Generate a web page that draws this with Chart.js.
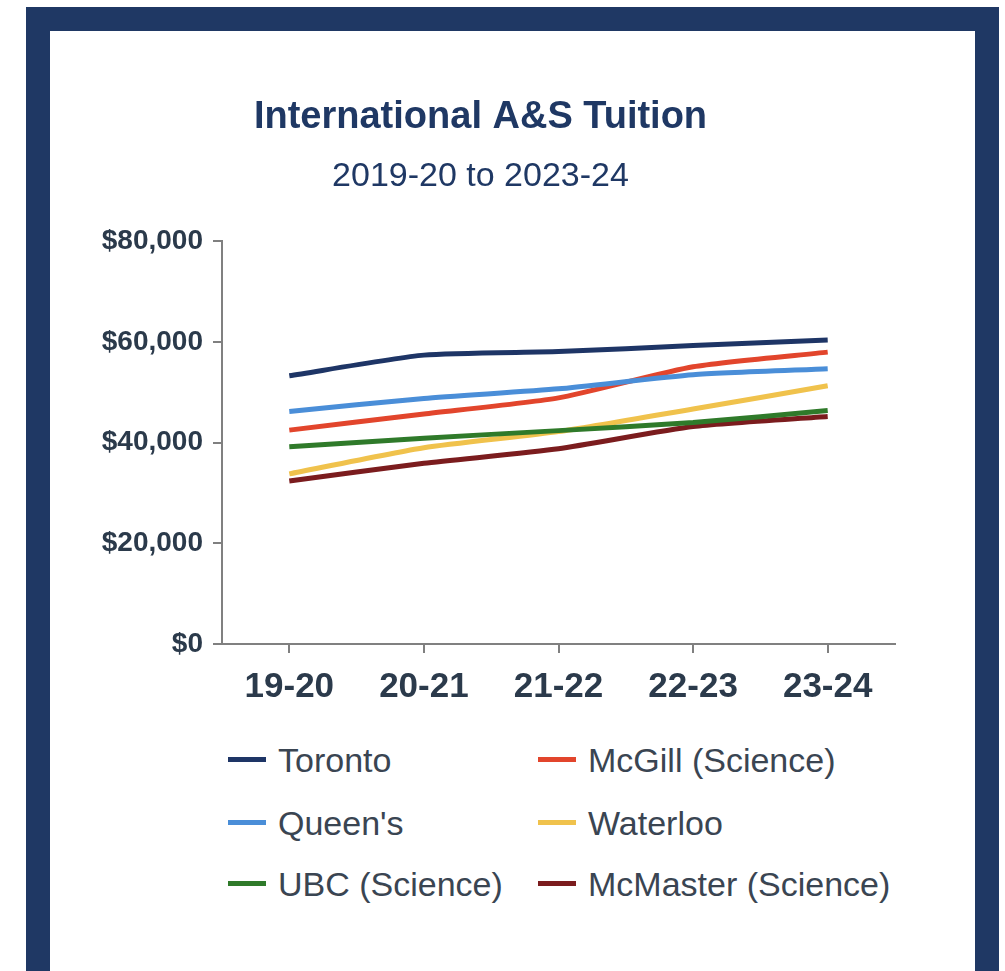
<!DOCTYPE html>
<html lang="en">
<head>
    <meta charset="UTF-8">
    <title>International A&amp;S Tuition</title>
    <style>
        body { margin: 0; background: #fff; font-family: 'Liberation Sans', Arial, sans-serif; }
        .frame { position: absolute; left: 26px; top: 7px; width: 973px; height: 990px; border: 24px solid #1f3864; box-sizing: border-box; }
        .chart-box { position: absolute; left: 50px; top: 32px; width: 926px; height: 700px; }
        .legend { position: absolute; left: 0; top: 0; }
        .legend-item { position: absolute; font-size: 34px; color: #3a4552; line-height: 40px; white-space: nowrap; }
        .legend-item span.swatch { position: absolute; top: 17px; width: 38px; height: 5px; }
        .legend-item span.label { position: absolute; top: 0; }
    </style>
</head>
<body>
    <div class="frame"></div>
    <div class="chart-box"><canvas id="tuitionChart"></canvas></div>
    <div class="legend" id="legend"></div>

    <script src="https://cdn.jsdelivr.net/npm/chart.js"></script>
    <script>
        const years = ['19-20', '20-21', '21-22', '22-23', '23-24'];
        const schools = ['Toronto', "Queen's", 'UBC (Science)', 'McGill (Science)', 'Waterloo', 'McMaster (Science)'];

        const toronto  = [53300, 57400, 58100, 59300, 60400];
        const queens   = [46200, 48800, 50700, 53500, 54700];
        const ubc      = [39200, 40900, 42400, 44000, 46400];
        const mcgill   = [42500, 45700, 48900, 55100, 58000];
        const waterloo = [33800, 39000, 42200, 46700, 51300];
        const mcmaster = [32400, 35900, 38800, 43200, 45200];

        const colours = ['#1e3566', '#4a8ed8', '#2f7a2a', '#e2452c', '#f0c24c', '#7b1c1e'];
        const seriesValues = [toronto, queens, ubc, mcgill, waterloo, mcmaster];

        const datasets = schools.map((name, i) => ({
            label: name,
            data: seriesValues[i],
            borderColor: colours[i],
            backgroundColor: colours[i],
            borderWidth: 5,
            pointRadius: 0,
            tension: 0.2,
            fill: false,
            order: i
        }));

        const tickColor = '#2b3a4b';
        const axisGrey = '#808080';

        new Chart(document.getElementById('tuitionChart'), {
            type: 'line',
            data: { labels: years, datasets: datasets },
            options: {
                responsive: true,
                maintainAspectRatio: false,
                animation: false,
                layout: { padding: { left: 16, right: 81, top: 0, bottom: 11 } },
                plugins: {
                    legend: { display: false },
                    tooltip: { enabled: false },
                    title: {
                        display: true,
                        text: 'International A&S Tuition',
                        color: '#1f3864',
                        font: { family: "'Liberation Sans', Arial, sans-serif", size: 38, weight: 'bold', lineHeight: 1.2 },
                        padding: { top: 63, bottom: 4 }
                    },
                    subtitle: {
                        display: true,
                        text: '2019-20 to 2023-24',
                        color: '#1f3864',
                        font: { family: "'Liberation Sans', Arial, sans-serif", size: 34, lineHeight: 1.2 },
                        padding: { top: 12, bottom: 44 }
                    }
                },
                scales: {
                    x: {
                        offset: true,
                        grid: { display: true, drawOnChartArea: false, drawTicks: true, tickLength: 9, color: axisGrey, lineWidth: 2, offset: false },
                        border: { display: true, color: axisGrey, width: 2 },
                        ticks: {
                            color: tickColor,
                            padding: 13,
                            font: { family: "'Liberation Sans', Arial, sans-serif", size: 35, weight: 'bold', lineHeight: 1.2 }
                        }
                    },
                    y: {
                        min: 0,
                        max: 80000,
                        afterFit: (scale) => { scale.width = 156; },
                        grid: { display: true, drawOnChartArea: false, drawTicks: true, tickLength: 9, color: axisGrey, lineWidth: 2 },
                        border: { display: true, color: axisGrey, width: 2 },
                        ticks: {
                            stepSize: 20000,
                            color: tickColor,
                            padding: 10,
                            font: { family: "'Liberation Sans', Arial, sans-serif", size: 28, weight: 'bold' },
                            callback: (v) => '$' + v.toLocaleString('en-US')
                        }
                    }
                }
            }
        });

        // two-column legend like the original
        const legendSlots = [
            { name: 'Toronto', x: 228, y: 760 },
            { name: 'McGill (Science)', x: 538, y: 760 },
            { name: "Queen's", x: 228, y: 823 },
            { name: 'Waterloo', x: 538, y: 823 },
            { name: 'UBC (Science)', x: 228, y: 884 },
            { name: 'McMaster (Science)', x: 538, y: 884 }
        ];
        const legendEl = document.getElementById('legend');
        legendSlots.forEach(slot => {
            const idx = schools.indexOf(slot.name);
            const item = document.createElement('div');
            item.className = 'legend-item';
            item.style.left = slot.x + 'px';
            item.style.top = (slot.y - 20) + 'px';
            item.innerHTML = `<span class="swatch" style="left:0;background:${colours[idx]}"></span><span class="label" style="left:50px">${slot.name}</span>`;
            legendEl.appendChild(item);
        });
    </script>
</body>
</html>
